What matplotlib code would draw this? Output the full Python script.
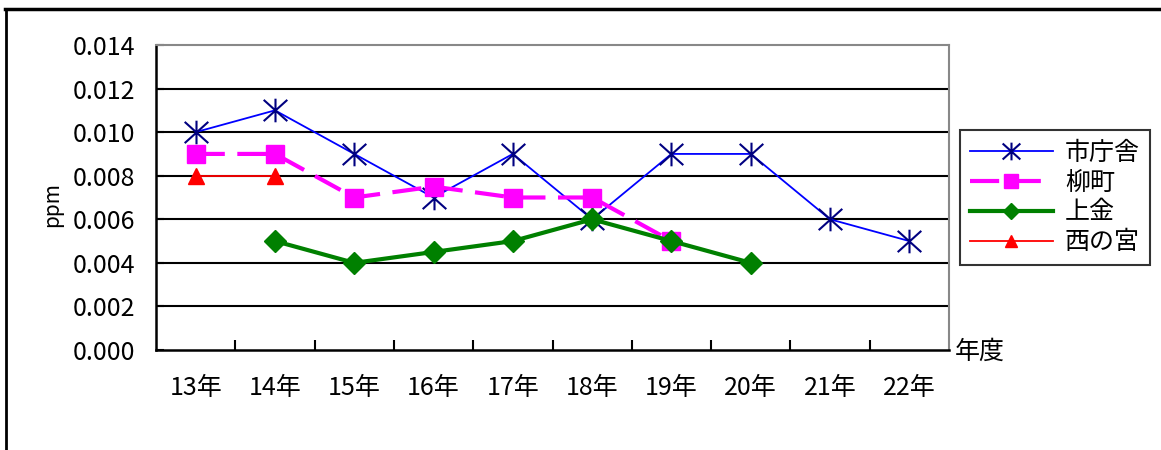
import numpy as np
import matplotlib
matplotlib.use("Agg")
import matplotlib.pyplot as plt
from matplotlib.path import Path
from matplotlib.lines import Line2D

plt.rcParams['font.family'] = ['Noto Sans CJK JP', 'DejaVu Sans']

years = ['13年', '14年', '15年', '16年', '17年', '18年', '19年', '20年', '21年', '22年']
shichousha = [0.010, 0.011, 0.009, 0.007, 0.009, 0.006, 0.009, 0.009, 0.006, 0.005]
yanagimachi = [0.009, 0.009, 0.007, 0.0075, 0.007, 0.007, 0.005, np.nan, np.nan, np.nan]
kamikane = [np.nan, 0.005, 0.004, 0.0045, 0.005, 0.006, 0.005, 0.004, np.nan, np.nan]
nishinomiya = [0.008, 0.008, np.nan, np.nan, np.nan, np.nan, np.nan, np.nan, np.nan, np.nan]
y_ticks = [0.000, 0.002, 0.004, 0.006, 0.008, 0.010, 0.012, 0.014]

# star marker: X plus a vertical bar
star = Path([(-1, -0.9), (1, 0.9), (-1, 0.9), (1, -0.9), (0, -1), (0, 1)],
            [Path.MOVETO, Path.LINETO, Path.MOVETO, Path.LINETO, Path.MOVETO, Path.LINETO])

fig = plt.figure(figsize=(11.61, 4.5), dpi=100)
ax = fig.add_axes([156 / 1161, 100 / 450, 793 / 1161, 305 / 450])

x = np.arange(len(years))

ax.plot(x, shichousha, color='#0000FF', lw=1.3, marker=star, ms=17,
        mec='#000080', mew=1.5, label='市庁舎', zorder=3)
ax.plot(x, yanagimachi, color='#FF00FF', lw=3, dashes=(7, 3), marker='s', ms=13,
        mfc='#FF00FF', mec='#FF00FF', label='柳町', zorder=4)
ax.plot(x, kamikane, color='#008000', lw=3, marker='D', ms=11,
        mfc='#008000', mec='#008000', label='上金', zorder=5)
ax.plot(x, nishinomiya, color='#FF0000', lw=1.3, marker='^', ms=12,
        mfc='#FF0000', mec='#FF0000', label='西の宮', zorder=4)

ax.set_xlim(-0.5, len(years) - 0.5)
ax.set_ylim(0, 0.014)
ax.set_yticks(y_ticks)
ax.set_yticklabels([f'{v:.3f}' for v in y_ticks], fontsize=18)
ax.set_xticks(x)
ax.set_xticklabels(years, fontsize=18)
ax.set_xticks(np.arange(0.5, len(years) - 1, 1.0), minor=True)
ax.tick_params(axis='x', which='major', length=0, pad=18)
ax.tick_params(axis='x', which='minor', direction='in', length=7, width=1.5, color='black')
ax.tick_params(axis='y', direction='in', length=6, width=1.5, pad=15)

for v in y_ticks[1:-1]:
    ax.axhline(v, color='black', lw=1.5, zorder=1)

ax.spines['left'].set_linewidth(1.8)
ax.spines['bottom'].set_linewidth(1.8)
ax.spines['top'].set_color('#888888')
ax.spines['right'].set_color('#888888')
ax.spines['top'].set_linewidth(1.5)
ax.spines['right'].set_linewidth(1.5)

fig.text(52 / 1161, 1 - 205 / 450, 'ppm', rotation=90, fontsize=15,
         ha='center', va='center')
fig.text(955 / 1161, 1 - 352 / 450, '年度', fontsize=18, ha='left', va='center')

leg = fig.legend(loc='upper left', bbox_to_anchor=(960 / 1161, 1 - 130 / 450),
                 fontsize=18, frameon=True, fancybox=False, handlelength=3.3,
                 handletextpad=0.5, labelspacing=0.15, borderpad=0.4,
                 borderaxespad=0)
leg.get_frame().set_edgecolor('black')
leg.get_frame().set_linewidth(1.5)
for h in leg.legend_handles:
    h.set_markersize(h.get_markersize() * 0.75)

# outer frame (top and left edges only visible)
fig.add_artist(Line2D([5 / 1161, 1], [1 - 9 / 450, 1 - 9 / 450], color='black', lw=2.5,
                      transform=fig.transFigure))
fig.add_artist(Line2D([6 / 1161, 6 / 1161], [0, 1 - 9 / 450], color='black', lw=2,
                      transform=fig.transFigure))

fig.savefig('out.png', dpi=100)
